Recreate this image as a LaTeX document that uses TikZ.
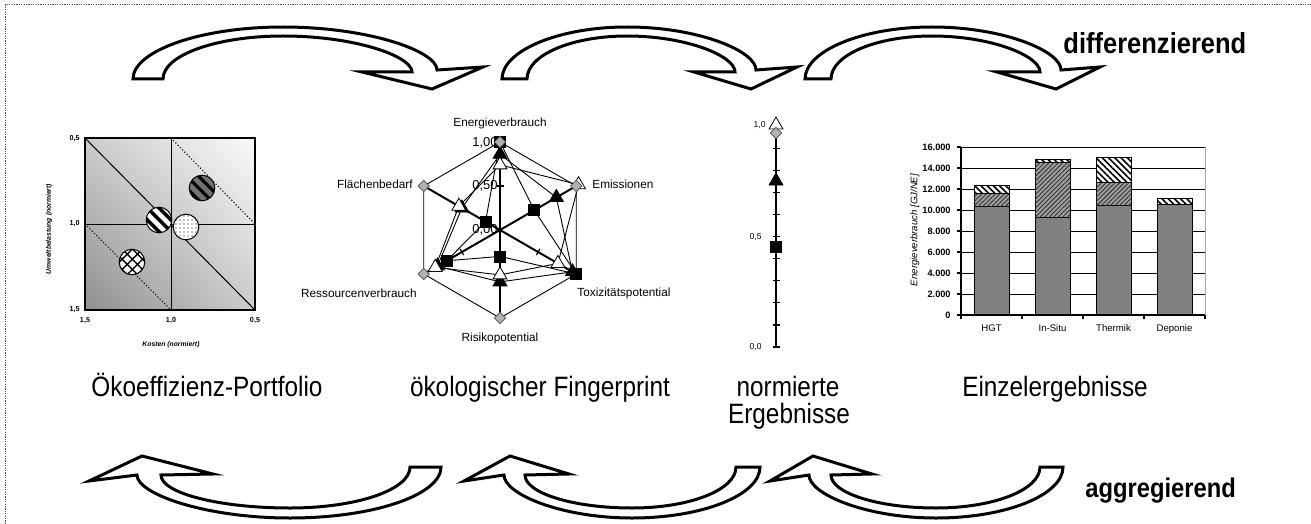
\documentclass[tikz,border=0pt]{standalone}
\usepackage{fontspec}
\setmainfont{Liberation Sans}
\newfontfamily\cond[FakeStretch=0.87]{Liberation Sans}
\newfontfamily\condb[FakeStretch=0.88]{Liberation Sans}
\usetikzlibrary{shapes.geometric,patterns.meta,shadings}

% curved block arrow over the charts, pointing right/down
% #1 outer foot, #2 inner foot, #3 crest, #4 inner end, #5 outer end,
% #6 left barb, #7 tip, #8 right barb (x values)
\newcommand\toparrow[8]{%
  \draw[blockarrow] (#1,79) .. controls (#1,51) and ({#3-0.552*(#3-#1)},27) .. (#3,27)
    .. controls ({#3+0.552*(#5-#3)},27) and (#5,51) .. (#5,70)
    -- (#8,67) -- (#7,89) -- (#6,72) -- (#4,72)
    .. controls (#4,56) and ({#3+0.552*(#4-#3)},36) .. (#3,36)
    .. controls ({#3-0.552*(#3-#2)},36) and (#2,55) .. (#2,79) -- cycle;}

% curved block arrow under the charts, pointing left/up
% #1 left barb, #2 tip, #3 right barb, #4 outer start, #5 inner end,
% #6 inner foot, #7 outer foot, #8 lowest point (x values)
\newcommand\botarrow[8]{%
  \draw[blockarrow] (#7,467) .. controls (#7,495) and ({#8+0.552*(#7-#8)},518) .. (#8,518)
    .. controls ({#8-0.552*(#8-#4)},518) and (#4,494) .. (#4,475)
    -- (#1,481) -- (#2,456) -- (#3,474) -- (#5,475)
    .. controls (#5,493) and ({#8-0.552*(#8-#5)},508) .. (#8,508)
    .. controls ({#8+0.552*(#6-#8)},508) and (#6,490) .. (#6,467) -- cycle;}

% radar series: prefix, then values for the six axes
\newcommand\radarseries[7]{%
  \coordinate (#1a) at (-90:{88*#2});
  \coordinate (#1b) at (-30:{88*#3});
  \coordinate (#1c) at (30:{88*#4});
  \coordinate (#1d) at (90:{88*#5});
  \coordinate (#1e) at (150:{88*#6});
  \coordinate (#1f) at (210:{88*#7});
  \draw[seriesline] (#1a) -- (#1b) -- (#1c) -- (#1d) -- (#1e) -- (#1f) -- cycle;}
\newcommand\radarmarks[2]{%
  \foreach \k in {a,b,c,d,e,f} \node[#2] (#1\k m) at (#1\k) {};}

% stacked bar segment: centre x, from value, to value, style
\newcommand\barseg[4]{%
  \draw[#4] ({#1-17.5},{315-0.0105*#2}) rectangle ({#1+17.5},{315-0.0105*#3});}

\tikzset{
  blockarrow/.style={draw=black, fill=white, line width=1.5pt, line join=miter},
  titletxt/.style={font={\cond\fontsize{14}{16}\selectfont}, inner sep=0},
  sidebold/.style={font={\condb\bfseries\fontsize{14.5}{16}\selectfont}, inner sep=0},
  tinylbl/.style={font={\bfseries\fontsize{3.6}{4}\selectfont}, inner sep=0},
  tinyital/.style={font={\bfseries\itshape\fontsize{3.4}{4}\selectfont}, inner sep=0},
  radarlbl/.style={font={\fontsize{5.9}{7}\selectfont}, inner sep=0},
  radarval/.style={font={\fontsize{6.5}{7}\selectfont}, inner sep=0, anchor=east},
  axislbl/.style={font={\fontsize{4.3}{5}\selectfont}, inner sep=0, anchor=east},
  barlbl/.style={font={\fontsize{4.8}{5}\selectfont}, inner sep=0},
  seriesline/.style={line width=0.45pt},
  axisline/.style={line width=1pt},
  sq/.style={rectangle, draw=black, fill=black, minimum size=5.5pt, inner sep=0},
  wtri/.style={regular polygon, regular polygon sides=3, draw=black, fill=white, minimum size=8pt, inner sep=0, line width=0.4pt},
  btri/.style={regular polygon, regular polygon sides=3, draw=black, fill=black, minimum size=8pt, inner sep=0},
  dia/.style={diamond, draw=black!70, fill=black!30, minimum size=5.8pt, inner sep=0, line width=0.4pt},
  basebar/.style={draw=black, line width=0.5pt, fill=black!50},
  hatchbar/.style={draw=black, line width=0.5pt, fill=black!38,
    postaction={pattern={Lines[angle=45,distance=1.6pt,line width=0.45pt]}, pattern color=black!80}},
  stripebar/.style={draw=black, line width=0.5pt, fill=white,
    postaction={pattern={Lines[angle=-45,distance=2.2pt,line width=0.8pt]}, pattern color=black}},
}

\begin{document}
\begin{tikzpicture}[x=0.5pt, y=-0.5pt]
\useasboundingbox (0,0) rectangle (1311,524);

% dotted frame
\draw[black!70, line width=0.5pt, dash pattern=on 0.6pt off 0.6pt] (5,524) -- (5,5) -- (1311,5);

% upper arrows: differentiating direction
\toparrow{133}{163}{283}{412}{437}{362}{432}{483}
\toparrow{502}{527}{627}{735}{756}{694}{751}{797}
\toparrow{805}{831}{932}{1040}{1061}{997}{1056}{1100}
\node[sidebold, anchor=base west] (diff) at (1063,54) {differenzierend};

% lower arrows: aggregating direction
\botarrow{89}{142}{213}{137}{161}{410}{441}{290}
\botarrow{464}{510}{569}{504}{525}{736}{760}{632}
\botarrow{770}{813}{872}{809}{831}{1040}{1063}{936}
\node[sidebold, font={\condb\bfseries\fontsize{13.5}{15}\selectfont}, anchor=base west] (aggr) at (1085,497) {aggregierend};

% ---------------- eco-efficiency portfolio ----------------
\shade[upper left=black!20, upper right=black!2, lower left=black!44, lower right=black!20]
  (85,138) rectangle (255,310);
\draw[line width=0.5pt] (171,138) -- (171,310);
\draw[line width=0.5pt] (85,224) -- (255,224);
\draw[line width=0.5pt] (85,138) -- (255,310);
\draw[line width=0.5pt, dash pattern=on 0.6pt off 1pt] (171,138) -- (255,224);
\draw[line width=0.5pt, dash pattern=on 0.6pt off 1pt] (85,224) -- (171,310);
\draw[line width=0.9pt] (85,138) rectangle (255,310);
% options in the portfolio
\fill[black!55] (202,188) circle[radius=6.4pt];
\fill[pattern={Lines[angle=-45,distance=4.2pt,line width=1.6pt]}, pattern color=black] (202,188) circle[radius=6.4pt];
\draw[line width=0.5pt] (202,188) circle[radius=6.4pt];
\fill[white] (159,220) circle[radius=6.4pt];
\fill[pattern={Lines[angle=-45,distance=4.2pt,line width=1.8pt]}, pattern color=black] (159,220) circle[radius=6.4pt];
\draw[line width=0.5pt] (159,220) circle[radius=6.4pt];
\fill[white] (186,227) circle[radius=6.4pt];
\fill[pattern={Dots[distance=2pt,radius=0.3pt]}, pattern color=black] (186,227) circle[radius=6.4pt];
\draw[line width=0.5pt] (186,227) circle[radius=6.4pt];
\fill[white] (132,262) circle[radius=6.4pt];
\fill[pattern={Lines[angle=45,distance=3.6pt,line width=0.7pt]}, pattern color=black] (132,262) circle[radius=6.4pt];
\fill[pattern={Lines[angle=-45,distance=3.6pt,line width=0.7pt]}, pattern color=black] (132,262) circle[radius=6.4pt];
\draw[line width=0.5pt] (132,262) circle[radius=6.4pt];
% portfolio axes
\node[tinylbl, anchor=east] (py1) at (80,139) {0,5};
\node[tinylbl, anchor=east] (py2) at (80,224) {1,0};
\node[tinylbl, anchor=east] (py3) at (80,310) {1,5};
\node[tinylbl] (px1) at (85,321) {1,5};
\node[tinylbl] (px2) at (171,321) {1,0};
\node[tinylbl] (px3) at (255,321) {0,5};
\node[tinyital] (pxt) at (171,345) {Kosten (normiert)};
\node[tinyital, rotate=90] (pyt) at (49,229) {Umweltbelastung (normiert)};
\node[titletxt, anchor=base] (pf) at (207,396) {Ökoeffizienz-Portfolio};

% ---------------- ecological fingerprint ----------------
\begin{scope}[shift={(500,230)}]
  \draw[axisline] (-90:88) -- (90:88);
  \draw[axisline] (-30:88) -- (150:88);
  \draw[axisline] (30:88) -- (210:88);
  \foreach \a in {-90,-30,30,90,150,210}
    \draw[line width=0.6pt, rotate=\a] (44,-3.5) -- (44,3.5);
  \node[radarval] (v100) at (-2,-87) {1,00};
  \node[radarval] (v050) at (-2,-44) {0,50};
  \node[radarval] (v000) at (-2,0) {0,00};
  % outer hexagon, triangles, squares
  \radarseries{d}{1}{1}{1}{1}{1}{1}
  \radarseries{w}{0.74}{1.03}{0.76}{0.51}{0.85}{0.54}
  \radarseries{b}{0.86}{0.74}{0.95}{0.59}{0.82}{0.5}
  \radarseries{s}{1}{0.45}{1.0}{0.3}{0.7}{0.19}
  \radarmarks{b}{btri}
  \radarmarks{w}{wtri}
  \radarmarks{s}{sq}
  \radarmarks{d}{dia}
  \node[sq] (sctop) at (sc) {};
\end{scope}
\node[radarlbl] (le) at (500,123) {Energieverbrauch};
\node[radarlbl, anchor=east] (lf) at (413,184) {Flächenbedarf};
\node[radarlbl, anchor=west] (lm) at (592,184) {Emissionen};
\node[radarlbl, anchor=east] (lr) at (417,293) {Ressourcenverbrauch};
\node[radarlbl, anchor=west] (lt) at (577,293) {Toxizitätspotential};
\node[radarlbl] (lk) at (500,338) {Risikopotential};
\node[titletxt, anchor=base] (fp) at (540,396) {ökologischer Fingerprint};

% ---------------- normalised results ----------------
\draw[line width=1pt] (776,347) -- (776,128);
\foreach \k in {0,...,10}
  \draw[line width=0.6pt] (772.5,{347-22.1*\k}) -- (779.5,{347-22.1*\k});
\node[axislbl] (n10) at (766,125) {1,0};
\node[axislbl] (n05) at (762,237) {0,5};
\node[axislbl] (n00) at (762,347) {0,0};
\node[wtri] (nw) at (776,125) {};
\node[dia] (nd) at (776,133) {};
\node[btri] (nb) at (776,181) {};
\node[sq] (ns) at (776,247) {};
\node[titletxt, anchor=base] (nt1) at (788,396) {normierte};
\node[titletxt, anchor=base] (nt2) at (789,423) {Ergebnisse};

% ---------------- single results ----------------
\foreach \k in {1,...,8}
  \draw[line width=0.5pt] (961,{315-21*\k}) -- (1205,{315-21*\k});
\draw[black!35, line width=0.5pt] (1205,147) -- (1205,315);
\barseg{991.5}{0}{10300}{basebar}
\barseg{991.5}{10300}{11600}{hatchbar}
\barseg{991.5}{11600}{12300}{stripebar}
\barseg{1052.5}{0}{9300}{basebar}
\barseg{1052.5}{9300}{14550}{hatchbar}
\barseg{1052.5}{14550}{14850}{stripebar}
\barseg{1113.5}{0}{10400}{basebar}
\barseg{1113.5}{10400}{12600}{hatchbar}
\barseg{1113.5}{12600}{15000}{stripebar}
\barseg{1174.5}{0}{10500}{basebar}
\barseg{1174.5}{10500}{11100}{stripebar}
\draw[line width=0.7pt] (961,147) -- (961,315) -- (1205,315);
\foreach \k in {0,...,8}
  \draw[line width=0.6pt] (957,{315-21*\k}) -- (961,{315-21*\k});
\foreach \x in {961,1022,1083,1144,1205}
  \draw[line width=0.6pt] (\x,315) -- (\x,319);
\foreach \v/\t [count=\k from 0] in {0/0,1/2.000,2/4.000,3/6.000,4/8.000,5/10.000,6/12.000,7/14.000,8/16.000}
  \node[barlbl, font={\bfseries\fontsize{4.6}{5}\selectfont}, anchor=east] (yl\k) at (951,{315-21*\v}) {\t};
\node[barlbl, font={\itshape\fontsize{4.8}{5}\selectfont}, rotate=90] (yt) at (915,230) {Energieverbrauch [GJ/NE]};
\node[barlbl, anchor=base] (c1) at (991.5,331) {HGT};
\node[barlbl, anchor=base] (c2) at (1052.5,331) {In-Situ};
\node[barlbl, anchor=base] (c3) at (1113.5,331) {Thermik};
\node[barlbl, anchor=base] (c4) at (1174.5,331) {Deponie};
\node[titletxt, anchor=base] (ee) at (1055,396) {Einzelergebnisse};
\end{tikzpicture}
\end{document}
